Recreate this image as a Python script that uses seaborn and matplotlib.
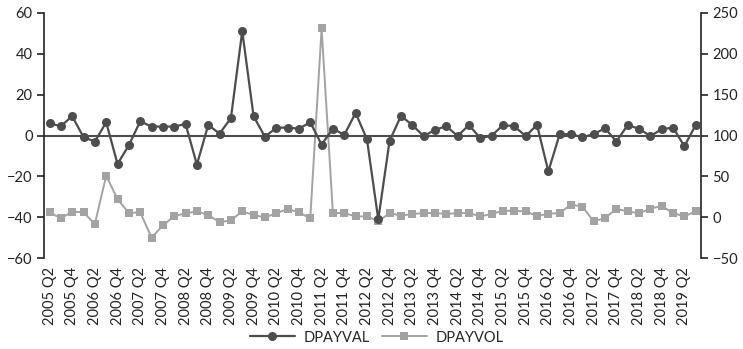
import matplotlib
matplotlib.use("Agg")
import matplotlib.pyplot as plt
import seaborn as sns
import pandas as pd

sns.set_style("white")
plt.rcParams['font.family'] = ['Lato', 'DejaVu Sans']

# quarters 2005 Q2 .. 2019 Q3
quarters = []
for yr in range(2005, 2020):
    for q in range(1, 5):
        if (yr == 2005 and q < 2) or (yr == 2019 and q > 3):
            continue
        quarters.append(f"{yr} Q{q}")

dpayval = [6.0, 4.6, 9.5, -0.8, -2.9, 6.5, -13.9, -4.7, 7.0, 4.4,
           4.4, 4.4, 5.7, -14.2, 5.2, 1.0, 8.5, 51.1, 9.5, -0.6,
           3.8, 3.9, 3.4, 6.5, -4.4, 3.4, 0.3, 11.1, -1.8, -41.0,
           -2.5, 9.6, 5.2, -0.3, 2.8, 4.6, -0.2, 5.2, -1.3, -0.1,
           5.2, 4.5, -0.2, 5.2, -17.5, 0.7, 0.7, -0.8, 0.7, 3.6,
           -2.9, 5.2, 3.3, -0.2, 3.1, 3.9, -5.2, 5.2]

dpayvol = [6.2, -1.2, 7.0, 6.2, -8.2, 51.0, 22.2, 5.3, 6.2, -24.7,
           -9.9, 1.6, 4.9, 7.4, 2.9, -5.8, -3.7, 7.4, 2.9, 0.0,
           4.9, 10.3, 6.2, -1.2, 231.0, 5.3, 5.3, 1.2, 1.2, -4.9,
           5.3, 2.1, 4.1, 5.3, 5.3, 4.1, 5.3, 5.3, 1.2, 4.1,
           8.2, 7.8, 7.4, 1.6, 4.5, 5.3, 15.6, 13.2, -4.9, -0.8,
           10.3, 7.4, 4.9, 10.7, 14.0, 5.3, 1.2, 7.4]

df = pd.DataFrame({"quarter": quarters, "DPAYVAL": dpayval, "DPAYVOL": dpayvol})

dark = "#4d4d4d"
grey = "#a3a3a5"
fs = 10.5

fig, ax = plt.subplots(figsize=(7.43, 3.49), dpi=100)
ax2 = ax.twinx()

sns.lineplot(data=df, x="quarter", y="DPAYVOL", ax=ax2, sort=False, color=grey,
             marker="s", markersize=6, markeredgewidth=0, linewidth=1.4,
             label="DPAYVOL", legend=False)
sns.lineplot(data=df, x="quarter", y="DPAYVAL", ax=ax, sort=False, color=dark,
             marker="o", markersize=6.5, markeredgewidth=0, linewidth=1.6,
             label="DPAYVAL", legend=False)
ax.set_zorder(ax2.get_zorder() + 1)
ax.patch.set_visible(False)

ax.axhline(0, color=dark, linewidth=1.5, zorder=1)

ax.set_ylim(-60, 60)
ax.set_yticks(range(-60, 61, 20))
ax2.set_ylim(-50, 250)
ax2.set_yticks(range(-50, 251, 50))
ax.set_xlim(-0.5, len(quarters) - 0.5)

ticks = list(range(0, len(quarters), 2))
ax.set_xticks(ticks)
ax.set_xticklabels([quarters[i] for i in ticks], rotation=90)
ax.set_xlabel("")
ax.set_ylabel("")
ax2.set_ylabel("")

for a in (ax, ax2):
    for s in ("top", "bottom"):
        a.spines[s].set_visible(False)
    a.spines["left"].set_color("#222222")
    a.spines["right"].set_color("#222222")
    a.spines["left"].set_linewidth(1.2)
    a.spines["right"].set_linewidth(1.2)
ax.spines["right"].set_visible(False)
ax2.spines["left"].set_visible(False)

ax.tick_params(axis="y", left=True, length=5, width=1.2, labelsize=fs,
               colors="#222222", pad=3)
ax2.tick_params(axis="y", right=True, length=5, width=1.2, labelsize=fs,
                colors="#222222", pad=3)
ax.tick_params(axis="x", bottom=False, labelsize=fs, colors="#222222", pad=3)

h1, l1 = ax.get_legend_handles_labels()
h2, l2 = ax2.get_legend_handles_labels()
fig.legend(h1 + h2, l1 + l2, loc="lower center", ncol=2, frameon=False,
           fontsize=fs, bbox_to_anchor=(0.507, -0.025), handlelength=3.1,
           columnspacing=0.8, handletextpad=0.6)

fig.subplots_adjust(left=0.059, right=0.944, top=0.963, bottom=0.26)
fig.savefig("out.png", dpi=100)
